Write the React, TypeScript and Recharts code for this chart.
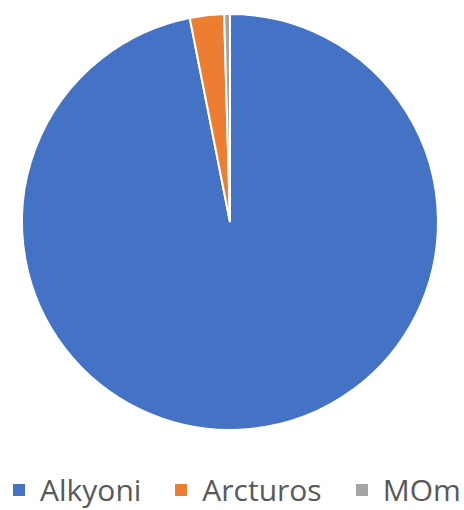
import { Cell, Legend, Pie, PieChart } from "recharts";

const names = ["Alkyoni", "Arcturos", "MOm"];
const values = [96.9, 2.65, 0.45];
const colors = ["#4472C4", "#ED7D31", "#A5A5A5"];

const data = names.map((name, i) => ({ name, value: values[i] }));

function LegendRow() {
  return (
    <div
      style={{
        display: "flex",
        alignItems: "center",
        paddingLeft: 13,
        fontFamily: "'Open Sans', sans-serif",
        fontSize: 30,
        lineHeight: "32px",
        height: 32,
        color: "#595959",
      }}
    >
      {names.map((n, i) => (
        <div key={n} style={{ display: "flex", alignItems: "center", marginRight: 34 }}>
          <span
            style={{
              width: 12,
              height: 12,
              background: colors[i],
              display: "inline-block",
              marginRight: 15,
            }}
          />
          <span>{n}</span>
        </div>
      ))}
    </div>
  );
}

export default function App() {
  return (
    <div style={{ position: "absolute", left: 0, top: 0, width: 464, height: 510, background: "#fff" }}>
      <PieChart width={464} height={510} margin={{ top: 0, right: 0, bottom: 0, left: 0 }}>
        <Pie
          data={data}
          dataKey="value"
          nameKey="name"
          cx={230}
          cy={222}
          outerRadius={208}
          startAngle={90}
          endAngle={-270}
          stroke="#fff"
          strokeWidth={2}
          isAnimationActive={false}
        >
          {data.map((d, i) => (
            <Cell key={d.name} fill={colors[i]} />
          ))}
        </Pie>
        <Legend
          content={() => <LegendRow />}
          wrapperStyle={{ top: 474, left: 0, width: 464, height: 32 }}
        />
      </PieChart>
    </div>
  );
}
